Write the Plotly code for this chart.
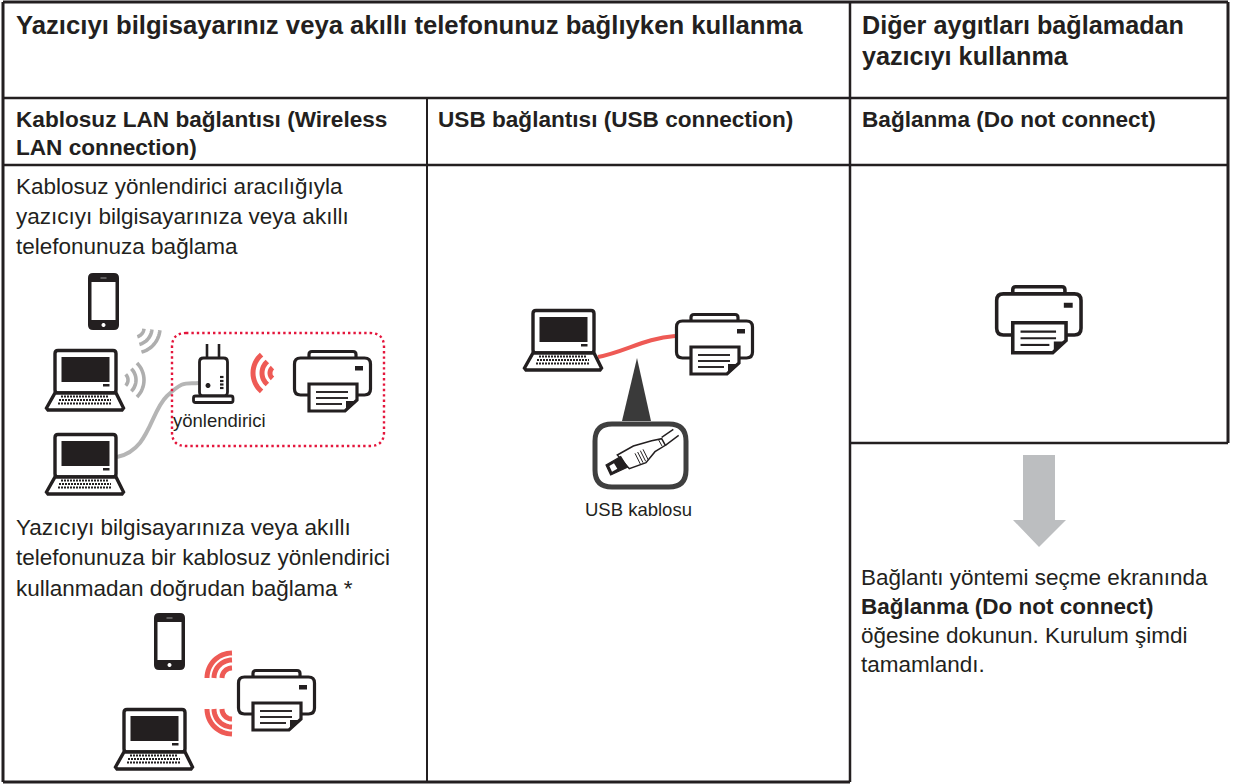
import math
import plotly.graph_objects as go

INK = "#231f20"
RED = "#ee5a55"
GREY = "#b3b3b3"
FONT = "Liberation Sans"

# (text, left x, centre y, font size)
HEAD_TEXT = [
    ("<b>Yazıcıyı bilgisayarınız veya akıllı telefonunuz bağlıyken kullanma</b>", 14, 25, 25.7),
    ("<b>Diğer aygıtları bağlamadan</b>", 860, 25, 25.2),
    ("<b>yazıcıyı kullanma</b>", 860, 56, 25.2),
    ("<b>Kablosuz LAN bağlantısı (Wireless</b>", 14, 119, 22.6),
    ("<b>LAN connection)</b>", 14, 147, 22.6),
    ("<b>USB bağlantısı (USB connection)</b>", 436, 119, 22.6),
    ("<b>Bağlanma (Do not connect)</b>", 860, 119, 22.6),
]
BODY_TEXT = [
    ("Kablosuz yönlendirici aracılığıyla", 14, 186, 22.5),
    ("yazıcıyı bilgisayarınıza veya akıllı", 14, 216, 22.5),
    ("telefonunuza bağlama", 14, 246, 22.5),
    ("Yazıcıyı bilgisayarınıza veya akıllı", 14, 527, 22.5),
    ("telefonunuza bir kablosuz yönlendirici", 14, 557, 22.5),
    ("kullanmadan doğrudan bağlama *", 14, 588, 22.5),
    ("Bağlantı yöntemi seçme ekranında", 859, 577, 22.5),
    ("<b>Bağlanma (Do not connect)</b>", 859, 606, 22.5),
    ("öğesine dokunun. Kurulum şimdi", 859, 635, 22.5),
    ("tamamlandı.", 859, 664, 22.5),
    ("yönlendirici", 171, 420, 18.5),
    ("USB kablosu", 583, 509, 18.5),
]
# table rules: x0, y0, x1, y1, width
RULES = [
    (3, 2, 1228, 2, 3), (3, 98, 1228, 98, 2.5), (3, 165, 1228, 165, 2.5),
    (3, 782, 850, 782, 3), (3, 2, 3, 782, 3), (427, 98, 427, 782, 2),
    (850, 2, 850, 782, 2.5), (1228, 2, 1228, 443, 3), (850, 443, 1228, 443, 2.5),
]
PRINTERS = [(293, 350, 1), (675, 313, 1), (237, 669, 1), (995, 285, 1.11)]
LAPTOPS = [(45, 349), (45, 433), (523, 309), (114, 708)]
PHONES = [(88, 273), (154, 613)]
# centre x, centre y, radii, start deg, end deg, colour, width
WAVES = [
    (135, 328, (9, 17, 25), 5, 75, "#aeaeae", 3.6),
    (120, 380, (8, 16, 24), -45, 45, "#aeaeae", 3.6),
    (277, 373, (7, 15, 24), 130, 230, RED, 5),
    (232, 678, (10, 18, 25), 180, 270, RED, 5),
    (232, 709, (10, 18, 25), 90, 180, RED, 5),
]

shapes = []


def add(path, fill=None, color=None, width=0, **kw):
    s = dict(type="path", path=path, xref="x", yref="y", layer="above",
             fillcolor=fill or "rgba(0,0,0,0)", line=dict(color=color or "rgba(0,0,0,0)", width=width))
    s["line"].update(kw)
    shapes.append(s)


def rrect(x0, y0, x1, y1, r):
    return (f"M{x0+r} {y0}L{x1-r} {y0}Q{x1} {y0} {x1} {y0+r}L{x1} {y1-r}Q{x1} {y1} {x1-r} {y1}"
            f"L{x0+r} {y1}Q{x0} {y1} {x0} {y1-r}L{x0} {y0+r}Q{x0} {y0} {x0+r} {y0}Z")


def poly(pts, close=True):
    return "M" + "L".join(f"{x:.2f} {y:.2f}" for x, y in pts) + ("Z" if close else "")


def circle_path(cx, cy, r):
    return poly([(cx + r * math.cos(math.radians(a)), cy + r * math.sin(math.radians(a))) for a in range(0, 360, 20)])


def printer(ox, oy, k):
    P = lambda x, y: (ox + x * k, oy + y * k)
    w = 3.2 * k
    a, b = P(16, 9), P(63, 1.5)
    add(f"M{a[0]} {a[1]}L{a[0]} {b[1]+3}Q{a[0]} {b[1]} {a[0]+3} {b[1]}L{b[0]-3} {b[1]}Q{b[0]} {b[1]} {b[0]} {b[1]+3}L{b[0]} {a[1]}",
        color=INK, width=w)
    c, d = P(1.5, 8), P(77.5, 45)
    add(rrect(c[0], c[1], d[0], d[1], 6 * k), fill="#ffffff", color=INK, width=w)
    add(poly([P(16, 34), P(64, 34), P(64, 50), P(52, 61), P(16, 61)]), fill="#ffffff", color=INK, width=w)
    add(poly([P(53, 61), P(53, 51), P(64, 51)]), fill=INK)
    for y, x1 in ((42, 55), (48, 55), (54, 49)):
        add(poly([P(23, y), P(x1, y)], False), color=INK, width=1.9 * k)
    add(poly([P(62, 16), P(70, 16), P(70, 20.5), P(62, 20.5)]), fill=INK)


def laptop(ox, oy):
    P = lambda x, y: (ox + x, oy + y)
    a, b = P(10, 1.5), P(71, 44)
    add(rrect(a[0], a[1], b[0], b[1], 3), fill="#ffffff", color=INK, width=3.4)
    add(poly([P(16.5, 8), P(64.5, 8), P(64.5, 33), P(16.5, 33)]), fill=INK)
    add(poly([P(58, 35), P(64.5, 35), P(64.5, 37.5), P(58, 37.5)]), fill=INK)
    add(poly([P(10, 44), P(71, 44), P(78.5, 59), P(77, 61), P(3, 61), P(1.5, 59)]),
        fill="#ffffff", color=INK, width=3.4)
    for y, x0, x1 in ((47.5, 16, 64), (51, 14, 66), (54.5, 13, 67)):
        add(poly([P(x0, y), P(x1, y)], False), color=INK, width=2.2, dash="2px,1px")


def phone(ox, oy):
    P = lambda x, y: (ox + x, oy + y)
    a, b = P(0, 0), P(31, 57)
    add(rrect(a[0], a[1], b[0], b[1], 5), fill=INK)
    add(poly([P(3.5, 9), P(27.5, 9), P(27.5, 47), P(3.5, 47)]), fill="#ffffff")
    add(poly([P(12.5, 5), P(18.5, 5)], False), color="#9a9a9a", width=1)
    add(circle_path(ox + 15.5, oy + 52, 2), fill="#ffffff")


def wave(cx, cy, radii, a0, a1, color, width):
    for r in radii:
        pts = [(cx + r * math.cos(math.radians(a0 + (a1 - a0) * i / 16)),
                cy + r * math.sin(math.radians(a0 + (a1 - a0) * i / 16))) for i in range(17)]
        add(poly(pts, False), color=color, width=width)


def Z(x, y):
    return (590 + x / 3, 420 + y / 3)


# table rules
for x0, y0, x1, y1, w in RULES:
    add(f"M{x0} {y0}L{x1} {y1}", color=INK, width=w)

# cables
add("M117 457C150 450 150 412 167 396S185 384 199 383", color="#b5b5b5", width=4)
add("M598 357C625 352 645 338 675 336", color=RED, width=4)

# dotted group
add(rrect(172, 333, 384, 446, 14), color="#e4163c", width=2.4, dash="2.4px,3px")

for p in PRINTERS:
    printer(*p)
for p in LAPTOPS:
    laptop(*p)
for p in PHONES:
    phone(*p)
for w in WAVES:
    wave(*w)

# router
add(poly([(207, 344), (207, 358)], False), color=INK, width=2.6)
add(poly([(219, 344), (219, 358)], False), color=INK, width=2.6)
add(rrect(199.5, 358, 227.5, 396, 4), fill="#ffffff", color=INK, width=2.8)
add(rrect(193.5, 396, 233, 402.5, 2), fill="#ffffff", color=INK, width=2.8)
add(circle_path(208, 385.5, 2.5), fill=INK)
for y in (377, 381, 384.5, 388):
    add(poly([(220, y), (223.5, y)], False), color=INK, width=2.2)

# USB pointer and inset
add(poly([(637, 358), (651, 421), (622, 421)]), fill="#3a3a3a")
add("M612 424L669 424Q686 424 686 441L686 470Q686 487 669 487L612 487Q595 487 595 470L595 441Q595 424 612 424Z",
    fill="#ffffff", color="#3f3f3f", width=5)
add(poly([Z(215, 52), Z(250, 28)], False), color=INK, width=1.4)
add(poly([Z(226, 76), Z(266, 46)], False), color=INK, width=1.4)
add(poly([Z(82, 105), Z(130, 78), Z(185, 62), Z(215, 56), Z(226, 76), Z(195, 95), Z(168, 128), Z(118, 146)]),
    fill="#ffffff", color=INK, width=1.5)
add(poly([Z(48, 135), Z(92, 110), Z(112, 142), Z(62, 165)]), fill=INK, color=INK, width=1.2)
add(poly([Z(58, 138), Z(72, 130), Z(82, 146), Z(66, 155)]), fill="#ffffff")
for x, y in ((135, 100), (143, 96), (151, 92), (159, 88)):
    add(poly([Z(x, y), Z(x + 16, y + 32)], False), color=INK, width=1)
add(poly([Z(205, 58), Z(216, 78)], False), color=INK, width=1)

# grey arrow
add(poly([(1023, 455), (1055, 455), (1055, 520), (1066, 520), (1039, 547), (1013, 520), (1023, 520)]), fill="#bcbec0")

annotations = [
    dict(text=t, x=x, y=y, xref="x", yref="y", xanchor="left", yanchor="middle", showarrow=False,
         align="left", font=dict(family=FONT, size=s, color=INK))
    for t, x, y, s in HEAD_TEXT + BODY_TEXT
]

fig = go.Figure()
fig.update_layout(
    width=1245, height=784, margin=dict(l=0, r=0, t=0, b=0),
    paper_bgcolor="#ffffff", plot_bgcolor="#ffffff", showlegend=False,
    xaxis=dict(range=[0, 1245], visible=False, fixedrange=True),
    yaxis=dict(range=[784, 0], visible=False, fixedrange=True),
    shapes=shapes, annotations=annotations,
)
fig.write_html("out.html", config=dict(displayModeBar=False),
               post_script="document.body.style.margin='0';document.body.style.overflow='hidden';")
